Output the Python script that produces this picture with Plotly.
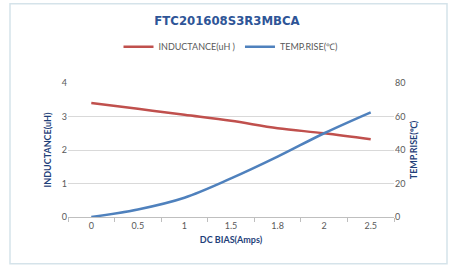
import plotly.graph_objects as go

categories = ["0", "0.5", "1", "1.5", "1.8", "2", "2.5"]
inductance = [3.4, 3.23, 3.05, 2.87, 2.65, 2.5, 2.32]
temp_rise = [0, 4.5, 11.5, 23, 36, 50, 62.5]

red = "#C0504D"
blue = "#4F81BD"
navy = "#1F3F7A"
gray = "#595959"

fig = go.Figure()
fig.add_trace(go.Scatter(x=categories, y=inductance, name="INDUCTANCE(uH )",
                         mode="lines", line=dict(color=red, width=2.5, shape="spline"),
                         yaxis="y"))
fig.add_trace(go.Scatter(x=categories, y=temp_rise, name="TEMP.RISE(℃)",
                         mode="lines", line=dict(color=blue, width=2.5, shape="spline"),
                         yaxis="y2"))

L, R, T, B = 68, 60, 82.5, 53
pw, ph = 454 - L - R, 270 - T - B

def px(x):
    return (x - L) / pw

def py(y):
    return (270 - B - y) / ph

fig.update_layout(
    width=454, height=270,
    margin=dict(l=L, r=R, t=T, b=B, autoexpand=False),
    paper_bgcolor="white", plot_bgcolor="white",
    font=dict(family="Lato, Open Sans, sans-serif", size=9, color=gray),
    title=dict(text="<b>FTC201608S3R3MBCA</b>", x=0.5, xanchor="center",
               y=1 - 20 / 270, yanchor="middle", yref="container",
               font=dict(family="DejaVu Sans Condensed, sans-serif",
                         size=13, color="#2E5597")),
    legend=dict(orientation="h", x=0.5, xanchor="center", y=py(46), yanchor="middle",
                font=dict(size=9, color=gray), bgcolor="rgba(0,0,0,0)",
                itemwidth=30, tracegroupgap=0),
    xaxis=dict(type="category", range=[-0.5, 6.5], showgrid=False, showline=True,
               linecolor="#BFBFBF",
               ticks="outside", tickson="boundaries", ticklen=4, tickcolor="#BFBFBF",
               tickfont=dict(size=9, color=gray),
               title=dict(text="<b>DC BIAS(Amps)</b>", font=dict(size=9, color=navy), standoff=6)),
    yaxis=dict(range=[0, 4], dtick=1, showgrid=True, gridcolor="#D9D9D9", zeroline=False,
               showline=False, tickfont=dict(size=9, color=gray), ticks="",
               title=dict(text="<b>INDUCTANCE(uH)</b>", font=dict(size=9, color=navy), standoff=8)),
    yaxis2=dict(range=[0, 80], dtick=20, overlaying="y", side="right", showgrid=False,
                zeroline=False, showline=False, tickfont=dict(size=9, color=gray),
                title=dict(text="<b>TEMP.RISE(℃)</b>", font=dict(size=9, color=navy), standoff=6)),
    shapes=[dict(type="rect", xref="paper", yref="paper",
                 x0=px(10), x1=px(447), y0=py(264), y1=py(3),
                 line=dict(color="#D5E3EA", width=1.5), fillcolor="rgba(0,0,0,0)", layer="below")],
)

fig.write_html("out.html", config={"displayModeBar": False},
               post_script="document.body.style.margin='0';document.body.style.overflow='hidden';")
